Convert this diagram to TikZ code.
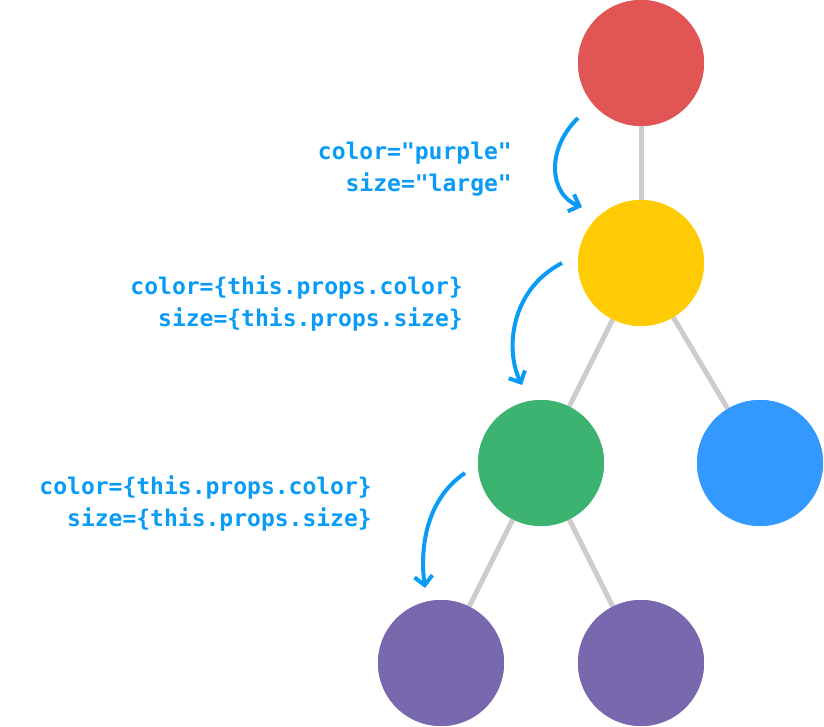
\documentclass[tikz,border=0pt]{standalone}
\usepackage{fontspec}
\setmonofont{DejaVu Sans Mono}
\usetikzlibrary{arrows.meta}
\definecolor{cred}{HTML}{E15554}
\definecolor{cyellow}{HTML}{FFCB05}
\definecolor{cgreen}{HTML}{3CB371}
\definecolor{cblue}{HTML}{3399FF}
\definecolor{cpurple}{HTML}{7868AE}
\definecolor{ctext}{HTML}{0A9BF5}
\definecolor{cedge}{HTML}{CCCCCC}
\begin{document}
\begin{tikzpicture}[x=1pt,y=-1pt,
  ball/.style={circle,minimum size=126pt,inner sep=0pt},
  edge/.style={draw=cedge,line width=5pt},
  lbl/.style={font=\ttfamily\bfseries\fontsize{23}{32}\selectfont,text=ctext,align=right,anchor=east,inner sep=0pt},
  flow/.style={draw=ctext,line width=4pt,-{Straight Barb[length=9pt,width=18pt,line width=4pt]}}]
\useasboundingbox (0,0) rectangle (824,726);
\node[ball,fill=cred] (r) at (641,63) {};
\node[ball,fill=cyellow] (y) at (641,263) {};
\node[ball,fill=cgreen] (g) at (541,463) {};
\node[ball,fill=cblue] (b) at (760,463) {};
\node[ball,fill=cpurple] (p1) at (441,663) {};
\node[ball,fill=cpurple] (p2) at (641,663) {};
\begin{scope}[on background layer/.try]
\end{scope}
\draw[edge] (r) -- (y);
\draw[edge] (y) -- (g);
\draw[edge] (y) -- (b);
\draw[edge] (g) -- (p1);
\draw[edge] (g) -- (p2);
\node[ball,fill=cred] at (641,63) {};
\node[ball,fill=cyellow] at (641,263) {};
\node[ball,fill=cgreen] at (541,463) {};
\node[ball,fill=cblue] at (760,463) {};
\node[ball,fill=cpurple] at (441,663) {};
\node[ball,fill=cpurple] at (641,663) {};
\node[lbl] (t1) at (512,169) {color="purple"\\size="large"};
\node[lbl] (t2) at (463,304) {color=\{this.props.color\}\\size=\{this.props.size\}};
\node[lbl] (t3) at (372,504) {color=\{this.props.color\}\\size=\{this.props.size\}};
\coordinate (a1s) at (578,118); \coordinate (a1e) at (582,207);
\coordinate (a2s) at (562,263); \coordinate (a2e) at (522,385);
\coordinate (a3s) at (465,473); \coordinate (a3e) at (425,588);
\draw[flow] (a1s) .. controls (545,150) and (550,195) .. (a1e);
\draw[flow] (a2s) .. controls (510,290) and (505,350) .. (a2e);
\draw[flow] (a3s) .. controls (425,500) and (420,550) .. (a3e);
\end{tikzpicture}
\end{document}
